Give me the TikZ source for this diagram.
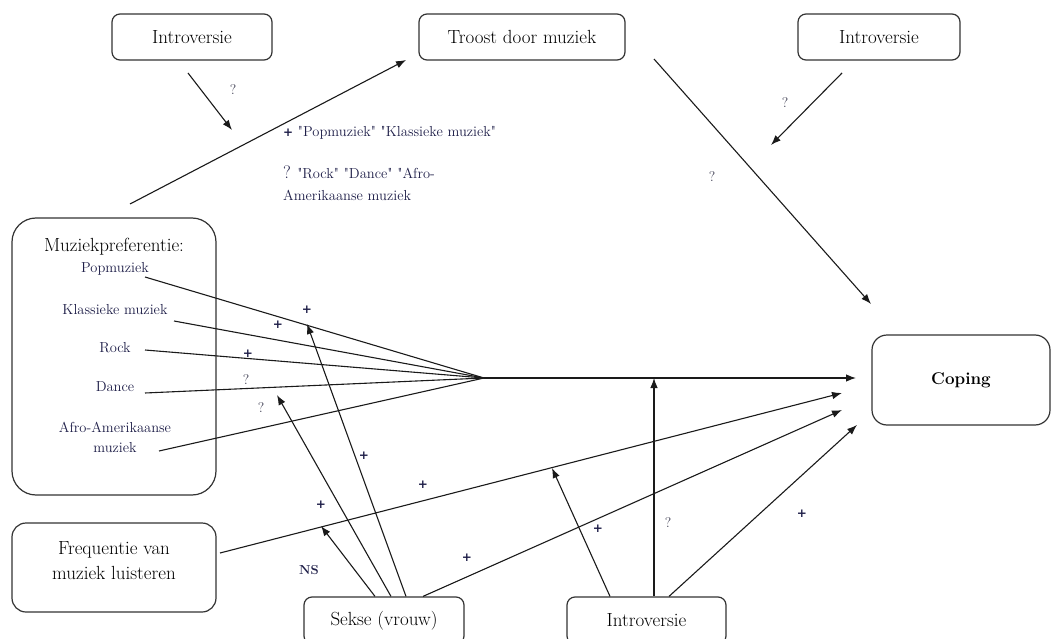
\documentclass[tikz,border=0pt]{standalone}
\usepackage{fontspec}
\newfontfamily\signfont{DejaVu Sans}
\usetikzlibrary{arrows.meta,positioning}
\definecolor{edge}{HTML}{333333}
\definecolor{ink}{HTML}{1A1A1A}
\definecolor{navy}{HTML}{1E1E48}
\definecolor{qgray}{HTML}{3E3E52}
\tikzset{factor/.style={draw=edge,line width=1.2pt,rounded corners=8pt,
  align=center,inner sep=0pt,font=\fontsize{19}{25}\selectfont},
  boxtext/.style={inner sep=0pt,align=center,font=\fontsize{19}{25}\selectfont},
  item/.style={text=navy,inner sep=0pt,align=center,font=\fontsize{14.5}{20}\selectfont},
  plus/.style={text=navy,inner sep=0pt,font=\signfont\bfseries\fontsize{12}{13}\selectfont},
  query/.style={text=qgray,inner sep=0pt,font=\fontsize{14}{16}\selectfont},
  effect/.style={-{Latex[length=10pt,width=7.5pt]},line width=1.1pt,draw=ink},
  link/.style={line width=1.1pt,draw=ink}}

\begin{document}
\begin{tikzpicture}[x=1pt,y=-1pt]
\useasboundingbox (0,0) rectangle (1052,639);
% boxes
\node[factor,minimum width=160pt,minimum height=46pt] (introA) at (192,37) {Introversie};
\node[factor,minimum width=206pt,minimum height=46pt] (troost) at (522,37) {Troost door muziek};
\node[factor,minimum width=162pt,minimum height=46pt] (introB) at (879,37) {Introversie};
\node[factor,rounded corners=24pt,minimum width=204pt,minimum height=277pt] (pref) at (114,356.5) {};
\node[factor,rounded corners=15pt,minimum width=178pt,minimum height=90pt,
  font=\fontsize{17}{20}\selectfont\bfseries] (coping) at (961,380) {Coping};
\node[factor,rounded corners=14pt,minimum width=204pt,minimum height=89pt] (freq) at (114,567.5) {};
\node[factor,minimum width=160pt,minimum height=47pt] (sekse) at (384,620.5) {Sekse (vrouw)};
\node[factor,minimum width=159pt,minimum height=47pt] (introC) at (646.5,620.5) {Introversie};
% texts in the boxes
\node[boxtext] (preftitle) at (114,247) {Muziekpreferentie:};
\node[boxtext] (freqtext) at (114,561) {Frequentie van\\muziek luisteren};
\node[item] (pop) at (115,269) {Popmuziek};
\node[item] (klas) at (115,310) {Klassieke muziek};
\node[item] (rock) at (115,348) {Rock};
\node[item] (dance) at (115,387) {Dance};
\node[item] (afro) at (115,437) {Afro-Amerikaanse\\muziek};
% notes
\node[item,anchor=west] (note1) at (283,133)
  {{\signfont\bfseries\fontsize{12}{13}\selectfont +} \textquotedbl Popmuziek\textquotedbl{} \textquotedbl Klassieke muziek\textquotedbl};
\node[item,anchor=north west,align=left,font=\fontsize{14.5}{22}\selectfont] (note2) at (283,166)
  {{\fontsize{18}{20}\selectfont ?} \textquotedbl Rock\textquotedbl{} \textquotedbl Dance\textquotedbl{} \textquotedbl Afro-\\Amerikaanse muziek};
% end points
\coordinate (prefTop) at (130,204);
\coordinate (troostIn) at (406,60);
\coordinate (introAOut) at (188,73);
\coordinate (introAIn) at (232,130);
\coordinate (troostOut) at (654,59);
\coordinate (copingTop) at (871,304);
\coordinate (introBOut) at (842,73);
\coordinate (introBIn) at (771,145);
\coordinate (popS) at (145,277);
\coordinate (klasS) at (174,321);
\coordinate (rockS) at (145,350);
\coordinate (danceS) at (145,393);
\coordinate (afroS) at (159,451);
\coordinate (conv) at (484,378);
\coordinate (copingW) at (856,378);
\coordinate (freqS) at (220,553);
\coordinate (freqIn) at (842,393);
\coordinate (sekseIn) at (842,410);
\coordinate (introCIn) at (857,425);
\coordinate (popMod) at (307,324);
\coordinate (danceMod) at (277,395);
\coordinate (freqMod) at (321,526);
\coordinate (freqModB) at (552,468);
\coordinate (mainMod) at (654,378);
% connectors
\draw[effect] (prefTop) -- (troostIn);
\draw[effect] (introAOut) -- (introAIn);
\draw[effect] (troostOut) -- (copingTop);
\draw[effect] (introBOut) -- (introBIn);
\foreach \s in {popS,klasS,rockS,danceS,afroS}
  \draw[link] (\s) -- (conv);
\draw[effect] (conv) -- (copingW);
\draw[effect] (freqS) -- (freqIn);
\draw[effect] ([xshift=-9pt]sekse.north) -- (freqMod);
\draw[effect] ([xshift=7pt]sekse.north) -- (danceMod);
\draw[effect] ([xshift=22pt]sekse.north) -- (popMod);
\draw[effect] ([xshift=39pt]sekse.north) -- (sekseIn);
\draw[effect] ([xshift=-36.5pt]introC.north) -- (freqModB);
\draw[effect] ([xshift=7.5pt]introC.north) -- (mainMod);
\draw[effect] ([xshift=22.5pt]introC.north) -- (introCIn);
% signs
\node[query] (q1) at (233,90) {?};
\node[query] (q2) at (785,103) {?};
\node[query] (q3) at (712,177) {?};
\node[plus] (p1) at (307,310) {+};
\node[plus] (p2) at (278,325) {+};
\node[plus] (p3) at (248,354) {+};
\node[query] (q4) at (246,380) {?};
\node[query] (q5) at (261,408) {?};
\node[plus] (p4) at (364,456) {+};
\node[plus] (p5) at (423,485) {+};
\node[plus] (p6) at (321,505) {+};
\node[plus,font=\bfseries\fontsize{13}{14}\selectfont] (ns) at (309,570) {NS};
\node[plus] (p7) at (467,558) {+};
\node[plus] (p8) at (598,529) {+};
\node[query] (q6) at (668,523) {?};
\node[plus] (p9) at (802,514) {+};
\end{tikzpicture}
\end{document}
